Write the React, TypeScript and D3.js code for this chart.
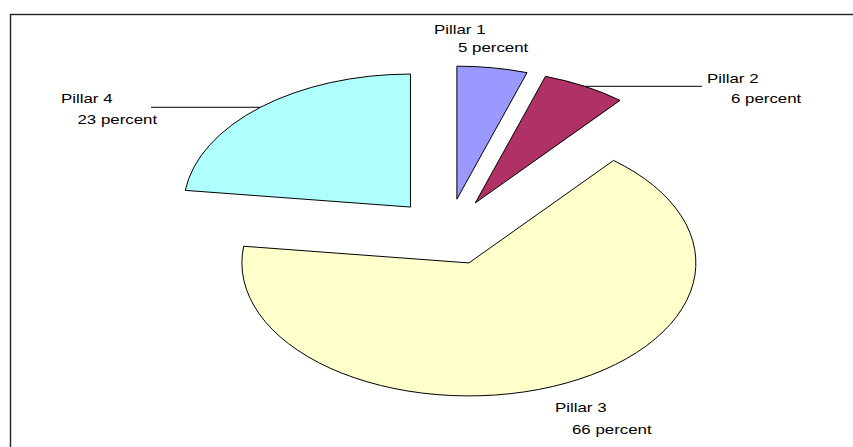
import React from 'react'
import * as d3 from 'd3'

// chart data
const categories = ['Pillar 1', 'Pillar 2', 'Pillar 3', 'Pillar 4']
const shares = [5, 6, 66, 23]
const valueLabels = ['5 percent', '6 percent', '66 percent', '23 percent']
const colors = ['#9999FF', '#AF3166', '#FFFFCC', '#AFFFFF']

// layout
const W = 853
const H = 447
const cx = 448
const cy = 232
const R = 133
const sx = 227 / 133 // picture is stretched horizontally
const explode = 0.25
const fontSize = 12.5
const textSx = 1.35

// label anchors: first line start + offset of second line, leader end (null = none)
const labelLayout = [
  { x: 434, y: 33.5, dx: 24, dy: 18.5, leaderTo: null },
  { x: 707, y: 82.5, dx: 24, dy: 20.5, leaderTo: 702 },
  { x: 555, y: 412, dx: 17, dy: 21.5, leaderTo: null },
  { x: 61, y: 102.5, dx: 16.5, dy: 21.5, leaderTo: 151 },
]

export default function App() {
  const pie = d3
    .pie<number>()
    .sort(null)
    .value((d) => d)
  const arcs = pie(shares)
  const arc = d3.arc<d3.PieArcDatum<number>>().innerRadius(0).outerRadius(R)

  const slices = arcs.map((a, i) => {
    const m = (a.startAngle + a.endAngle) / 2
    const tx = cx + sx * explode * R * Math.sin(m)
    const ty = cy - explode * R * Math.cos(m)
    // outer arc midpoint, for leader lines
    const px = tx + sx * R * Math.sin(m)
    const py = ty - R * Math.cos(m)
    return { a, i, tx, ty, px, py }
  })

  return (
    <svg
      width={W}
      height={H}
      style={{ position: 'absolute', left: 0, top: 0, background: '#fff' }}
      fontFamily="'Liberation Sans', Arial, sans-serif"
    >
      <rect x={10.5} y={14.5} width={1000} height={600} fill="#fff" stroke="#222" strokeWidth={1.4} />
      {slices.map((s) => (
        <g key={categories[s.i]} transform={`translate(${s.tx},${s.ty}) scale(${sx},1)`}>
          <path
            d={arc(s.a) || ''}
            fill={colors[s.i]}
            stroke="#000"
            strokeWidth={1}
            vectorEffect="non-scaling-stroke"
          />
        </g>
      ))}
      {slices.map((s) => {
        const l = labelLayout[s.i]
        if (l.leaderTo == null) return null
        return (
          <line
            key={'lead' + s.i}
            x1={s.px}
            y1={s.py}
            x2={l.leaderTo}
            y2={s.py}
            stroke="#000"
            strokeWidth={1}
          />
        )
      })}
      {categories.map((c, i) => {
        const l = labelLayout[i]
        return (
          <g key={'lab' + c} fontSize={fontSize} fill="#000">
            <text transform={`translate(${l.x},${l.y}) scale(${textSx},1)`}>{c}</text>
            <text transform={`translate(${l.x + l.dx},${l.y + l.dy}) scale(${textSx},1)`}>
              {valueLabels[i]}
            </text>
          </g>
        )
      })}
    </svg>
  )
}
